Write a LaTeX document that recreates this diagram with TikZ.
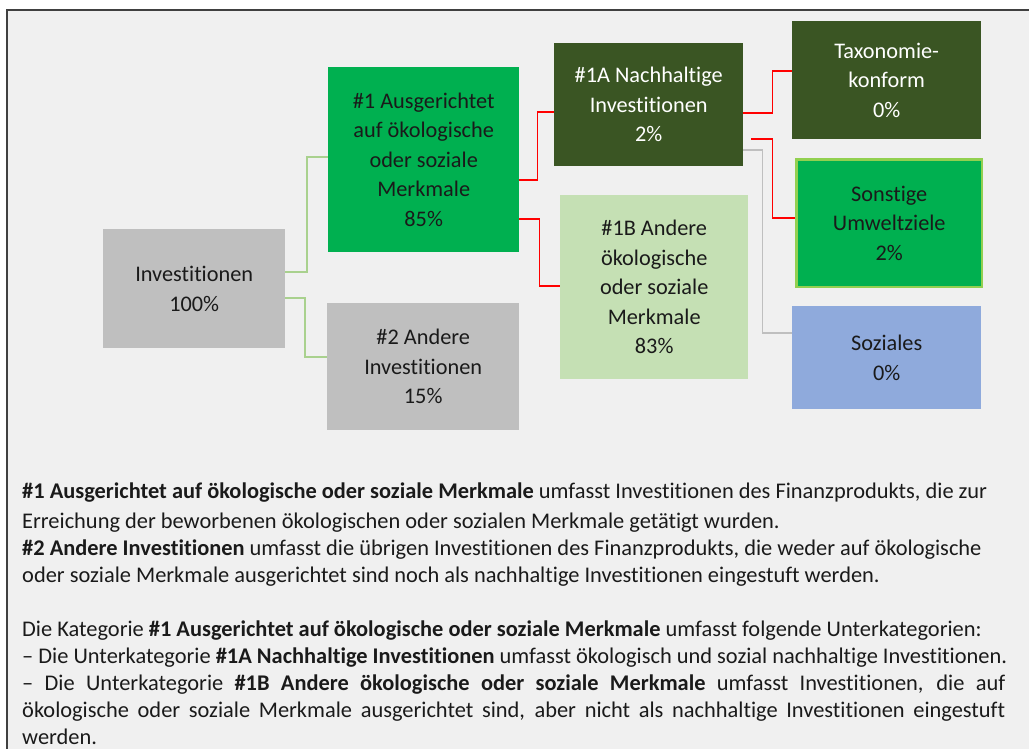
\documentclass[tikz,border=0pt]{standalone}
\usepackage{fontspec}
\setmainfont{Carlito}[Ligatures={NoCommon,NoRequired,NoContextual}]
\usetikzlibrary{calc}
\definecolor{bgc}{HTML}{F0F0F0}
\definecolor{framec}{HTML}{404040}
\definecolor{grayc}{HTML}{BFBFBF}
\definecolor{greenc}{HTML}{00B050}
\definecolor{darkc}{HTML}{3A5523}
\definecolor{lightc}{HTML}{C5E0B4}
\definecolor{bluec}{HTML}{8FAADC}
\definecolor{limec}{HTML}{92D050}
\definecolor{glinec}{HTML}{A9D18E}
\definecolor{txtc}{HTML}{1A1A1A}
\tikzset{
  box/.style={inner sep=0pt, align=center, anchor=north west, text=txtc,
    font=\fontsize{22.3}{29.5}\selectfont},
  gline/.style={draw=glinec, line width=2pt},
  rline/.style={draw=red, line width=1.8pt},
  kline/.style={draw=grayc, line width=1.8pt},
  para/.style={anchor=base west, inner sep=0pt, text=txtc,
    font=\fontsize{22.4}{27.3}\selectfont}
}
\begin{document}
\begin{tikzpicture}[x=1pt,y=-1pt]
\useasboundingbox (0,0) rectangle (1029,749);
\clip (0,0) rectangle (1029,749);
\fill[white] (0,0) rectangle (1029,749);
\draw[fill=bgc, draw=framec, line width=2pt] (7,10.3) rectangle (1045,770);

% boxes
\node[box, fill=grayc, minimum width=182pt, minimum height=119pt] (inv) at (103,229) {Investitionen\\100\%};
\node[box, fill=greenc, minimum width=191pt, minimum height=185pt] (n1) at (328,67) {\#1 Ausgerichtet\\auf ökologische\\oder soziale\\Merkmale\\85\%};
\node[box, fill=grayc, minimum width=192pt, minimum height=127pt] (n2) at (327,303) {\#2 Andere\\Investitionen\\15\%};
\node[box, fill=darkc, text=white, minimum width=189pt, minimum height=123pt] (n1a) at (554,43) {\#1A Nachhaltige\\Investitionen\\2\%};
\node[box, fill=lightc, minimum width=188pt, minimum height=184pt] (n1b) at (560,195) {\#1B Andere\\ökologische\\oder soziale\\Merkmale\\83\%};
\node[box, fill=darkc, text=white, minimum width=189pt, minimum height=118pt] (tax) at (792,21) {Taxonomie-\\konform\\0\%};
\node[box, fill=greenc, draw=limec, line width=2.5pt, minimum width=185.5pt, minimum height=127.5pt] (son) at (795.25,158.25) {Sonstige\\Umweltziele\\2\%};
\node[box, fill=bluec, minimum width=189pt, minimum height=103pt] (soz) at (792,306) {Soziales\\0\%};

% connectors
\draw[gline] ([yshift=16.5pt]inv.east) -- ++(22,0) |- ([yshift=2.5pt]n1.west);
\draw[gline] ([yshift=-9.5pt]inv.east) -- ++(20,0) |- ([yshift=9.5pt]n2.west);
\draw[rline] ([yshift=-20.5pt]n1.east) -- ++(18,0) |- ([yshift=-7.5pt]n1a.west);
\draw[rline] ([yshift=-59.5pt]n1.east) -- ++(20,0) |- ([yshift=1pt]n1b.west);
\draw[rline] ([yshift=-8.5pt]n1a.east) -- ++(29,0) |- ([yshift=9pt]tax.west);
\draw[rline] ([xshift=8pt,yshift=-34.5pt]n1a.east) -- ++(21,0) |- ([yshift=5pt]son.west);
\draw[kline] ([yshift=-45.5pt]n1a.east) -- ++(19,0) |- ([yshift=24.5pt]soz.west);

% explanatory text
\node[para] (t1) at (22,498) {\textbf{\#1 Ausgerichtet auf ökologische oder soziale Merkmale} umfasst Investitionen des Finanzprodukts, die zur};
\node[para] (t2) at (22,528) {Erreichung der beworbenen ökologischen oder sozialen Merkmale getätigt wurden.};
\node[para] (t3) at (22,555) {\textbf{\#2 Andere Investitionen} umfasst die übrigen Investitionen des Finanzprodukts, die weder auf ökologische};
\node[para] (t4) at (22,582) {oder soziale Merkmale ausgerichtet sind noch als nachhaltige Investitionen eingestuft werden.};
\node[para] (t5) at (22,636) {Die Kategorie \textbf{\#1 Ausgerichtet auf ökologische oder soziale Merkmale} umfasst folgende Unterkategorien:};
\node[para] (t6) at (22,663) {– Die Unterkategorie \textbf{\#1A Nachhaltige Investitionen} umfasst ökologisch und sozial nachhaltige Investitionen.};
\node[para] (t7) at (22,690) {\makebox[983pt][s]{– Die Unterkategorie \textbf{\#1B Andere ökologische oder soziale Merkmale} umfasst Investitionen, die auf}};
\node[para] (t8) at (22,717) {\makebox[983pt][s]{ökologische oder soziale Merkmale ausgerichtet sind, aber nicht als nachhaltige Investitionen eingestuft}};
\node[para] (t9) at (22,744) {werden.};
\end{tikzpicture}
\end{document}
